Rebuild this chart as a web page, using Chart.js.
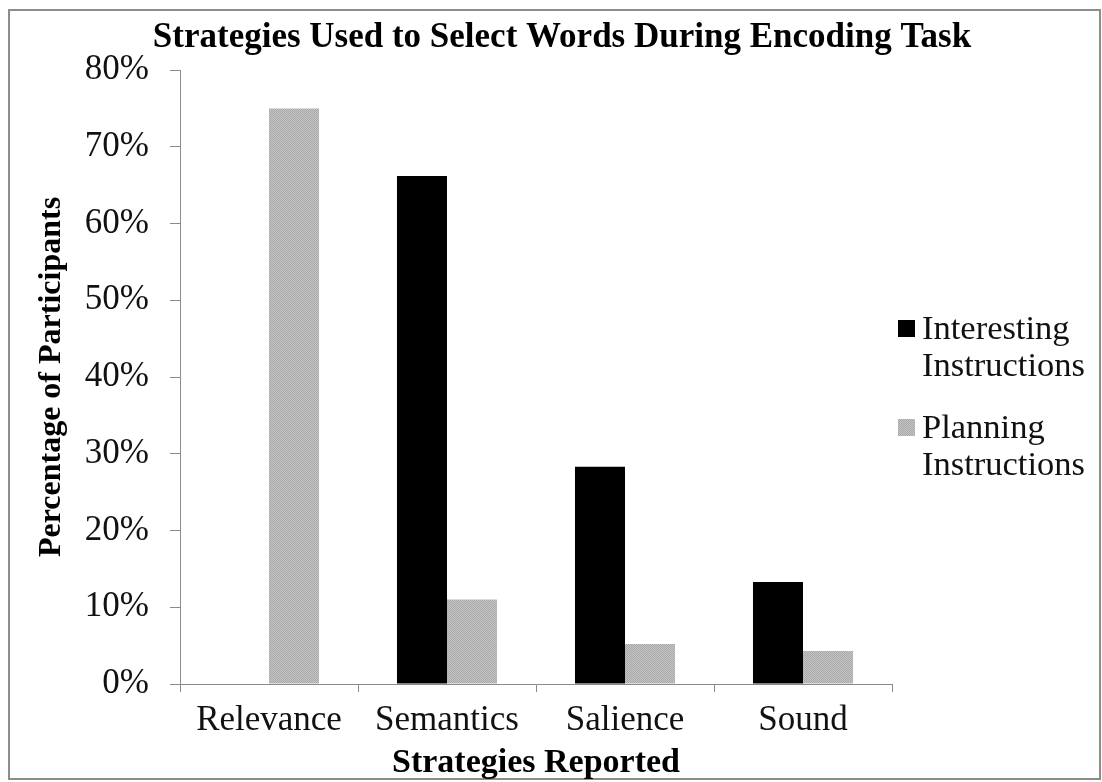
<!DOCTYPE html>
<html>
<head>
<meta charset="utf-8">
<script src="https://cdn.jsdelivr.net/npm/chart.js@4.4.1/dist/chart.umd.min.js"></script>
<style>
  html, body { margin: 0; padding: 0; background: #fff; }
  #wrap { width: 1102px; height: 782px; }
</style>
</head>
<body>
<div id="wrap"><canvas id="c" width="1102" height="782"></canvas></div>
<script>
const categories = ['Relevance', 'Semantics', 'Salience', 'Sound'];
const interestingValues = [0, 66.2, 28.3, 13.3];
const planningValues = [75, 11, 5.2, 4.3];
const seriesNames = [['Interesting', 'Instructions'], ['Planning', 'Instructions']];
const yTickValues = [0, 10, 20, 30, 40, 50, 60, 70, 80];
const chartTitle = 'Strategies Used to Select Words During Encoding Task';
const xTitle = 'Strategies Reported';
const yTitle = 'Percentage of Participants';

const FONT = "'Liberation Serif', 'Times New Roman', serif";

// halftone-like gray fill
function grayPattern() {
  const p = document.createElement('canvas');
  p.width = 2; p.height = 2;
  const g = p.getContext('2d');
  g.fillStyle = '#c4c4c4'; g.fillRect(0, 0, 2, 2);
  g.fillStyle = '#a9a9a9'; g.fillRect(0, 0, 1, 1); g.fillRect(1, 1, 1, 1);
  return g.createPattern(p, 'repeat');
}
const grayFill = grayPattern();

const frame = {
  id: 'frame',
  beforeDraw(chart) {
    const ctx = chart.ctx;
    ctx.save();
    ctx.fillStyle = '#fff';
    ctx.fillRect(0, 0, chart.width, chart.height);
    ctx.strokeStyle = '#8c8c8c';
    ctx.lineWidth = 2;
    ctx.strokeRect(9, 10, 1091, 769);
    ctx.restore();
  }
};

const topTitle = {
  id: 'topTitle',
  afterDraw(chart) {
    const ctx = chart.ctx;
    ctx.save();
    ctx.font = 'bold 35px ' + FONT;
    ctx.textAlign = 'center';
    ctx.textBaseline = 'middle';
    ctx.fillStyle = '#000';
    ctx.fillText(chartTitle, 562, 38);
    ctx.restore();
  }
};

const sideLegend = {
  id: 'sideLegend',
  afterDraw(chart) {
    const ctx = chart.ctx;
    ctx.save();
    ctx.font = '34.5px ' + FONT;
    ctx.textBaseline = 'middle';
    ctx.textAlign = 'left';
    const starts = [328, 427];
    chart.data.datasets.forEach((ds, i) => {
      const y0 = starts[i];
      ctx.fillStyle = ds.backgroundColor;
      ctx.fillRect(898, y0 - 8, 17, 17);
      ctx.fillStyle = '#111';
      seriesNames[i].forEach((line, j) => {
        ctx.fillText(line, 922, y0 + 2 + j * 37);
      });
    });
    ctx.restore();
  }
};

new Chart(document.getElementById('c'), {
  type: 'bar',
  data: {
    labels: categories,
    datasets: [
      { label: seriesNames[0].join(' '), data: interestingValues, backgroundColor: '#000000', borderWidth: 0 },
      { label: seriesNames[1].join(' '), data: planningValues, backgroundColor: grayFill, borderWidth: 0 }
    ]
  },
  options: {
    responsive: false,
    devicePixelRatio: 1,
    animation: false,
    layout: { padding: { left: 0, right: 210, top: 70, bottom: 0 } },
    datasets: { bar: { barPercentage: 1, categoryPercentage: 0.562 } },
    plugins: {
      legend: { display: false },
      tooltip: { enabled: false },
      title: { display: false, text: chartTitle }
    },
    scales: {
      x: {
        offset: true,
        grid: { display: true, offset: true, drawOnChartArea: false, drawTicks: true, tickLength: 8, color: '#8a8a8a' },
        border: { display: true, color: '#8a8a8a', width: 1 },
        ticks: { color: '#111', padding: 8, font: { family: FONT, size: 35 }, maxRotation: 0 },
        title: { display: true, text: xTitle, color: '#000', padding: { top: 0, bottom: 1 },
                 font: { family: FONT, size: 34, weight: 'bold', lineHeight: 1.05 } },
        afterFit(s) { s.height = 98; }
      },
      y: {
        min: 0, max: 80,
        afterBuildTicks(s) { s.ticks = yTickValues.map(v => ({ value: v })); },
        grid: { display: true, drawOnChartArea: false, drawTicks: true, tickLength: 10, color: '#8a8a8a' },
        border: { display: true, color: '#8a8a8a', width: 1 },
        ticks: { color: '#111', padding: 21, font: { family: FONT, size: 35 }, callback: v => v + '%' },
        title: { display: true, text: yTitle, color: '#000', padding: { top: 33, bottom: 0 },
                 font: { family: FONT, size: 32, weight: 'bold', lineHeight: 1.2 } },
        afterFit(s) { s.width = 180; }
      }
    }
  },
  plugins: [frame, topTitle, sideLegend]
});
</script>
</body>
</html>
